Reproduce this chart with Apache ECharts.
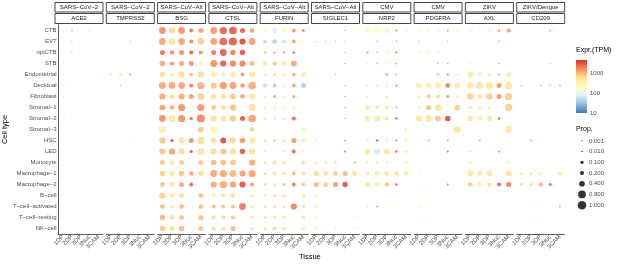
<!DOCTYPE html>
<html>
<head>
<meta charset="utf-8">
<script src="https://cdn.jsdelivr.net/npm/echarts@6/dist/echarts.min.js"></script>
<style>
  html, body { margin: 0; padding: 0; background: #fff; }
  #main { width: 617px; height: 264px; }
</style>
</head>
<body>
<div id="main"></div>
<script>
// axes
var cellTypes = ['CTB', 'EVT', 'npiCTB', 'STB', 'Endometrial', 'Decidual', 'Fibroblast',
  'Stromal−1', 'Stromal−2', 'Stromal−3', 'HSC', 'LED', 'Monocyte', 'Macrophage−1',
  'Macrophage−2', 'B−cell', 'T−cell−activated', 'T−cell−resting', 'NK−cell'];
var tissues = ['1DP', '2DP', '3DP', '3Nuc', '3CAM'];
var viruses = ['SARS−CoV−2', 'SARS−CoV−2', 'SARS−CoV−Alt', 'SARS−CoV−Alt', 'SARS−CoV−Alt',
  'SARS−CoV−Alt', 'CMV', 'CMV', 'ZIKV', 'ZIKV/Dengue'];
var genes = ['ACE2', 'TMPRSS2', 'BSG', 'CTSL', 'FURIN', 'SIGLEC1', 'NRP2', 'PDGFRA', 'AXL', 'CD209'];
var propBreaks = [0.001, 0.01, 0.1, 0.2, 0.4, 0.8, 1];
var exprTicks = [10, 100, 1000];

// proportion of cells (rows = cellTypes, cols = tissues), 0 = no dot; expression in TPM
var ACE2_prop = [
  [.006, .02, .006, .012, 0], [.006, .012, .006, .006, 0], [0, .012, 0, 0, 0], [.006, 0, 0, 0, 0],
  [.006, 0, 0, 0, 0], [.006, .012, .006, .006, 0], [.008, 0, 0, 0, 0], [0, 0, 0, 0, 0],
  [.006, .012, .006, 0, 0], [0, 0, 0, 0, 0], [.004, 0, 0, .004, 0], [0, 0, 0, 0, 0],
  [0, 0, .006, 0, 0], [.006, .006, 0, .004, 0], [.004, 0, 0, 0, 0], [.004, 0, 0, 0, 0],
  [0, 0, 0, 0, 0], [.004, 0, .004, 0, .004], [.004, 0, 0, 0, 0]];
var ACE2_expr = [
  [250, 35, 250, 55, 0], [250, 35, 250, 250, 0], [0, 35, 0, 0, 0], [250, 0, 0, 0, 0],
  [450, 0, 0, 0, 0], [250, 45, 250, 250, 0], [550, 0, 0, 0, 0], [0, 0, 0, 0, 0],
  [250, 45, 250, 0, 0], [0, 0, 0, 0, 0], [250, 0, 0, 250, 0], [0, 0, 0, 0, 0],
  [0, 0, 250, 0, 0], [250, 250, 0, 250, 0], [250, 0, 0, 0, 0], [250, 0, 0, 0, 0],
  [0, 0, 0, 0, 0], [250, 0, 250, 0, 250], [250, 0, 0, 0, 0]];

var TMPRSS2_prop = [
  [.006, 0, 0, .006, 0], [0, .006, .012, .006, 0], [0, 0, 0, 0, 0], [0, 0, 0, 0, 0],
  [.05, .15, .04, 0, .006], [0, .012, .006, 0, .006], [0, 0, 0, 0, 0], [0, 0, 0, 0, 0],
  [0, 0, 0, 0, 0], [0, 0, 0, 0, 0], [0, 0, .008, 0, 0], [0, 0, 0, 0, 0],
  [0, 0, 0, 0, 0], [0, 0, 0, 0, 0], [0, 0, 0, 0, 0], [0, 0, 0, 0, 0],
  [0, .006, .006, 0, 0], [0, 0, 0, 0, .004], [0, 0, 0, 0, .004]];
var TMPRSS2_expr = [
  [250, 0, 0, 250, 0], [0, 250, 35, 250, 0], [0, 0, 0, 0, 0], [0, 0, 0, 0, 0],
  [400, 400, 25, 0, 250], [0, 35, 250, 0, 250], [0, 0, 0, 0, 0], [0, 0, 0, 0, 0],
  [0, 0, 0, 0, 0], [0, 0, 0, 0, 0], [0, 0, 55, 0, 0], [0, 0, 0, 0, 0],
  [0, 0, 0, 0, 0], [0, 0, 0, 0, 0], [0, 0, 0, 0, 0], [0, 0, 0, 0, 0],
  [0, 250, 250, 0, 0], [0, 0, 0, 0, 250], [0, 0, 0, 0, 250]];

var BSG_prop = [
  [.6, .5, .6, .15, .3], [.6, .6, .6, .2, .6], [.3, .25, .3, .15, .2], [.4, .2, .3, .3, .2],
  [.4, .2, .5, .1, .5], [.6, .6, .6, .2, .7], [.5, .3, .5, .3, .6], [.4, .25, .7, 0, .7],
  [.6, .6, .7, .1, .9], [.6, 0, 0, 0, .4], [.5, .1, .5, .3, .7], [.5, .5, .5, .1, .7],
  [.3, .3, .3, 0, .3], [.35, .35, .4, .25, .4], [.3, .3, .3, .15, 0], [.5, .3, .3, 0, .3],
  [.25, .1, .25, 0, .25], [.35, .25, .3, 0, .3], [.35, .3, .35, 0, .3]];
var BSG_expr = [
  [2000, 700, 1800, 2800, 1500], [1500, 600, 1500, 2200, 800], [2800, 2000, 2000, 4000, 1800], [1300, 1900, 1500, 1900, 350],
  [650, 400, 650, 1500, 650], [1500, 1500, 1500, 2500, 1300], [1400, 650, 1300, 1700, 750], [1600, 1400, 1800, 0, 1800],
  [1900, 550, 1900, 3500, 2200], [450, 0, 0, 0, 900], [900, 4400, 650, 2000, 650], [900, 1600, 650, 4000, 550],
  [900, 550, 800, 0, 900], [800, 450, 900, 1400, 650], [900, 550, 1400, 3400, 0], [800, 450, 650, 0, 900],
  [1100, 650, 1100, 0, 1100], [1100, 650, 900, 0, 1000], [900, 650, 1100, 0, 900]];

var CTSL_prop = [
  [.6, .7, .8, .3, .25], [.6, .8, .9, .5, .6], [.3, .6, .35, .35, 0], [.6, .5, .5, .5, .3],
  [.4, .3, .4, .15, .45], [.5, .7, .6, .25, .8], [.4, .35, .4, .25, .5], [.3, .3, .5, 0, .6],
  [.5, .5, .5, .3, .8], [.7, 0, 0, 0, .25], [.4, .45, .45, .35, .45], [.45, .4, .5, .35, .5],
  [.35, .45, .4, 0, .5], [.6, .7, .6, .5, .7], [.5, .7, .5, .5, .2], [.2, .2, .3, 0, .1],
  [.15, .2, .2, .6, .1], [.15, .2, .2, 0, .1], [.15, .2, .3, 0, .1]];
var CTSL_expr = [
  [1800, 3400, 3600, 3400, 1600], [1600, 3400, 3800, 4500, 1600], [2700, 3600, 2500, 4000, 0], [2000, 3800, 2300, 2300, 1100],
  [450, 70, 450, 1800, 550], [900, 1800, 1600, 1800, 1400], [650, 650, 900, 1600, 550], [900, 650, 1000, 0, 650],
  [650, 550, 900, 4000, 1600], [350, 0, 0, 0, 800], [650, 4400, 650, 1800, 550], [650, 1100, 650, 4000, 600],
  [1100, 1000, 1000, 0, 1400], [1400, 1400, 1200, 1600, 1500], [1400, 1400, 1600, 4200, 1600], [450, 550, 550, 0, 550],
  [1100, 900, 900, 2700, 650], [650, 650, 900, 0, 650], [650, 650, 1100, 0, 650]];

var FURIN_prop = [
  [.2, .3, .25, .15, .05], [.15, .25, .15, .15, .05], [.05, .05, .05, .05, 0], [.3, .2, .25, .45, 0],
  [.1, .1, .1, .1, .3], [.2, .15, .2, .15, .3], [.1, .1, .05, .1, 0], [.05, .05, .05, .05, 0],
  [.1, .05, .1, .2, 0], [0, 0, 0, 0, .1], [.1, .05, .1, .3, .2], [.05, 0, .05, .15, .05],
  [.1, .15, .1, 0, .15], [.1, .15, .1, .15, .2], [.1, .1, .1, .15, .15], [.05, .1, .1, 0, .1],
  [.05, .1, .05, .5, .1], [.1, .1, .1, 0, .1], [.1, .15, .1, 0, .1]];
var FURIN_expr = [
  [250, 70, 250, 1800, 3400], [45, 35, 55, 1600, 250], [900, 1400, 1100, 3400, 0], [450, 900, 550, 1400, 0],
  [450, 550, 450, 1600, 450], [45, 35, 90, 1400, 35], [450, 1400, 450, 1400, 0], [450, 450, 450, 650, 0],
  [450, 550, 450, 3000, 0], [0, 0, 0, 0, 550], [650, 1100, 550, 1800, 550], [550, 0, 450, 3400, 450],
  [650, 650, 650, 0, 650], [650, 550, 650, 1100, 650], [650, 550, 900, 2700, 900], [550, 550, 550, 0, 650],
  [650, 650, 650, 2300, 650], [650, 650, 650, 0, 650], [650, 800, 650, 0, 550]];

var SIGLEC1_prop = [
  [.006, .006, .006, .012, 0], [.012, .012, .012, .012, .006], [0, 0, 0, .012, 0], [.006, .006, 0, .012, 0],
  [.006, 0, .012, 0, 0], [.008, .008, .008, .012, .008], [.006, .006, 0, .012, 0], [.006, 0, 0, .012, 0],
  [.006, 0, .006, .012, 0], [0, 0, 0, 0, 0], [.012, 0, 0, .02, 0], [.008, 0, 0, .02, 0],
  [.05, .05, .05, 0, .05], [.3, .3, .25, .3, .3], [.3, .3, .3, .35, 0], [.012, 0, 0, 0, 0],
  [.012, .008, .008, 0, 0], [.008, 0, 0, 0, .008], [.008, .008, .012, 0, .008]];
var SIGLEC1_expr = [
  [250, 250, 250, 1400, 0], [30, 35, 30, 900, 90], [0, 0, 0, 1100, 0], [250, 250, 0, 1400, 0],
  [90, 0, 35, 0, 0], [90, 90, 90, 1100, 90], [250, 250, 0, 1600, 0], [250, 0, 0, 1600, 0],
  [250, 0, 250, 1600, 0], [0, 0, 0, 0, 0], [650, 0, 0, 2000, 0], [450, 0, 0, 2700, 0],
  [650, 650, 650, 0, 900], [650, 550, 900, 1100, 550], [1100, 800, 1700, 4000, 0], [650, 0, 0, 0, 0],
  [1400, 450, 450, 0, 0], [650, 0, 0, 0, 650], [650, 650, 650, 0, 650]];

var NRP2_prop = [
  [.25, .35, .3, .05, .02], [.02, .02, .02, .02, .02], [.05, .03, .03, .03, 0], [.03, .03, .03, .03, 0],
  [.012, .012, .1, .03, 0], [.05, .05, .05, .05, 0], [.05, 0, .05, 0, 0], [.25, .2, .2, .03, 0],
  [.3, .45, .25, .05, 0], [0, 0, 0, 0, .05], [.05, .05, .05, .05, .05], [.45, .45, .45, .05, .1],
  [.05, .05, .03, 0, .05], [.2, .3, .25, .2, .25], [.3, .3, .25, .05, 0], [.012, .012, .012, 0, .012],
  [.03, .03, .012, .012, 0], [.012, .012, .012, 0, .012], [.012, .012, .012, 0, .012]];
var NRP2_expr = [
  [300, 250, 300, 1400, 450], [250, 35, 250, 1400, 250], [1400, 1100, 450, 3400, 0], [450, 35, 450, 1400, 0],
  [250, 250, 30, 1400, 0], [450, 450, 450, 1400, 0], [550, 0, 550, 0, 0], [550, 450, 450, 1400, 0],
  [550, 450, 450, 3400, 0], [0, 0, 0, 0, 450], [550, 3400, 550, 1400, 450], [450, 60, 450, 3400, 450],
  [550, 550, 550, 0, 550], [450, 450, 550, 650, 450], [550, 450, 900, 3400, 0], [450, 450, 450, 0, 450],
  [450, 1400, 450, 450, 0], [450, 450, 450, 0, 450], [450, 450, 450, 0, 450]];

var PDGFRA_prop = [
  [.02, .02, .02, .03, .03], [.012, .012, .012, .012, .012], [.02, .02, .02, 0, 0], [0, 0, .02, .02, 0],
  [.012, .012, .1, .05, .02], [.45, .45, .45, .25, .45], [.05, .15, .2, .1, .05], [.05, .3, .45, 0, .4],
  [.5, .6, .5, .4, 0], [0, 0, 0, 0, .6], [.012, .02, .012, .02, 0], [.012, .012, .012, .03, 0],
  [.012, 0, 0, 0, .012], [.02, .012, .012, 0, .012], [.012, .012, .012, .02, 0], [.012, .012, .012, 0, .012],
  [.02, .012, .012, 0, .012], [.012, .012, .012, 0, .012], [.012, .012, .012, 0, .012]];
var PDGFRA_expr = [
  [450, 450, 450, 1600, 450], [35, 250, 250, 1400, 250], [450, 450, 450, 0, 0], [0, 0, 30, 1400, 0],
  [250, 250, 45, 1800, 450], [450, 450, 450, 2500, 450], [550, 900, 650, 1800, 450], [650, 1000, 650, 0, 800],
  [550, 550, 900, 4000, 0], [0, 0, 0, 0, 550], [450, 1400, 450, 1800, 0], [450, 450, 450, 3000, 0],
  [450, 0, 0, 0, 450], [450, 450, 450, 0, 450], [450, 450, 450, 2700, 0], [450, 450, 450, 0, 450],
  [450, 450, 450, 0, 450], [450, 450, 450, 0, 450], [450, 450, 450, 0, 450]];

var AXL_prop = [
  [.02, .02, .02, .05, .2], [.02, .02, .02, .02, .02], [0, 0, 0, 0, 0], [.02, 0, 0, .02, 0],
  [.45, .3, .1, .03, .3], [.55, .6, .7, .3, .8], [.55, .3, .55, .3, .7], [.1, .1, .1, 0, .75],
  [.4, .3, .3, .05, 0], [0, 0, 0, 0, .6], [.012, .02, .012, .012, .012], [.05, .012, .012, .02, .012],
  [.05, .012, .012, 0, .05], [.45, .3, .45, 0, .45], [.25, .15, .2, .2, .35], [.012, .012, .012, 0, .012],
  [.012, .012, .012, 0, .012], [.012, .012, .012, 0, .012], [.012, .012, .012, 0, .012]];
var AXL_expr = [
  [450, 450, 450, 1800, 1600], [90, 250, 250, 1400, 250], [0, 0, 0, 0, 0], [450, 0, 0, 1400, 0],
  [500, 90, 450, 1400, 450], [550, 550, 550, 1800, 550], [800, 550, 800, 1800, 800], [550, 550, 550, 0, 800],
  [550, 450, 550, 3400, 0], [0, 0, 0, 0, 550], [450, 1800, 450, 450, 450], [550, 450, 450, 3000, 450],
  [550, 450, 450, 0, 550], [550, 500, 550, 0, 600], [900, 550, 650, 3000, 2000], [450, 450, 450, 0, 450],
  [450, 450, 450, 0, 450], [450, 450, 450, 0, 450], [450, 450, 450, 0, 450]];

var CD209_prop = [
  [.012, .012, .012, .02, .02], [.012, .012, .012, .012, .012], [0, 0, 0, 0, 0], [0, 0, 0, .012, 0],
  [0, 0, 0, 0, 0], [.02, .012, .02, .02, .02], [.012, .012, 0, 0, .012], [0, 0, 0, 0, 0],
  [0, 0, 0, 0, 0], [0, 0, 0, 0, .012], [.012, .02, .012, .012, .012], [.012, 0, 0, 0, .012],
  [.012, .012, .012, 0, .012], [.1, .1, .1, 0, .15], [.1, .15, .25, .1, 0], [.012, .012, .012, 0, .012],
  [.012, .012, .012, 0, .02], [.012, .012, .012, 0, .012], [.012, .012, .012, 0, .012]];
var CD209_expr = [
  [250, 250, 250, 1400, 450], [250, 250, 250, 250, 250], [0, 0, 0, 0, 0], [0, 0, 0, 35, 0],
  [0, 0, 0, 0, 0], [35, 250, 30, 35, 30], [250, 250, 0, 0, 250], [0, 0, 0, 0, 0],
  [0, 0, 0, 0, 0], [0, 0, 0, 0, 250], [450, 1400, 450, 450, 450], [450, 0, 0, 0, 450],
  [450, 450, 450, 0, 450], [550, 550, 500, 0, 550], [650, 550, 1100, 2700, 0], [450, 450, 450, 0, 450],
  [450, 450, 450, 0, 1400], [450, 450, 450, 0, 450], [450, 450, 450, 0, 450]];

var panelProp = [ACE2_prop, TMPRSS2_prop, BSG_prop, CTSL_prop, FURIN_prop,
  SIGLEC1_prop, NRP2_prop, PDGFRA_prop, AXL_prop, CD209_prop];
var panelExpr = [ACE2_expr, TMPRSS2_expr, BSG_expr, CTSL_expr, FURIN_expr,
  SIGLEC1_expr, NRP2_expr, PDGFRA_expr, AXL_expr, CD209_expr];

// layout
var PANEL_LEFT = 55, PANEL_W = 48, PANEL_STEP = 51.3, PANEL_TOP = 25, PANEL_H = 209;
var EXPR_MAX = 4500;
var palette = ['#4575b4', '#91bfdb', '#e0f3f8', '#ffffbf', '#fee090', '#fc8d59', '#d73027'];
var FONT = 'Liberation Sans, Arial, sans-serif';
var TXT = '#4d4d4d';

function dotSize(p) {
  return 0.8 + 7.7 * Math.sqrt(p);
}

var chart = echarts.init(document.getElementById('main'));

var grids = [], xAxes = [], yAxes = [], series = [], graphics = [];

for (var g = 0; g < genes.length; g++) {
  var left = PANEL_LEFT + g * PANEL_STEP;
  grids.push({ left: left, top: PANEL_TOP, width: PANEL_W, height: PANEL_H });
  xAxes.push({
    type: 'category', gridIndex: g, data: tissues,
    axisLine: { lineStyle: { color: '#333', width: 0.8 } },
    axisTick: { alignWithLabel: true, length: 2, lineStyle: { color: '#333', width: 0.8 } },
    axisLabel: { rotate: 45, fontSize: 6, color: TXT, margin: 2, interval: 0, fontFamily: FONT },
    splitLine: { show: false }
  });
  yAxes.push({
    type: 'category', gridIndex: g, data: cellTypes, inverse: true, show: g === 0,
    axisLine: { lineStyle: { color: '#333', width: 0.8 } },
    axisTick: { alignWithLabel: true, length: 2, lineStyle: { color: '#333', width: 0.8 } },
    axisLabel: { fontSize: 6, color: TXT, margin: 2, interval: 0, fontFamily: FONT },
    splitLine: { show: false },
    name: g === 0 ? 'Cell type' : '', nameLocation: 'middle', nameRotate: 90, nameGap: 44,
    nameTextStyle: { fontSize: 7.5, color: '#000', fontFamily: FONT }
  });

  var data = [];
  for (var r = 0; r < cellTypes.length; r++) {
    for (var t = 0; t < tissues.length; t++) {
      var p = panelProp[g][r][t];
      if (p > 0) data.push([t, r, p, Math.log10(panelExpr[g][r][t])]);
    }
  }
  series.push({
    type: 'scatter', xAxisIndex: g, yAxisIndex: g, data: data,
    symbolSize: function (v) { return dotSize(v[2]); },
    silent: true, animation: false
  });

  // facet strips
  var stripStyle = { fill: '#fff', stroke: '#333', lineWidth: 0.9 };
  graphics.push({ type: 'rect', shape: { x: left, y: 2.5, width: PANEL_W, height: 9.5 }, style: stripStyle });
  graphics.push({ type: 'rect', shape: { x: left, y: 13.5, width: PANEL_W, height: 10 }, style: stripStyle });
  graphics.push({ type: 'text', x: left + PANEL_W / 2, y: 7.5,
    style: { text: viruses[g], fontSize: 6, fill: '#1a1a1a', align: 'center', verticalAlign: 'middle', fontFamily: FONT } });
  graphics.push({ type: 'text', x: left + PANEL_W / 2, y: 18.8,
    style: { text: genes[g], fontSize: 6, fill: '#1a1a1a', align: 'center', verticalAlign: 'middle', fontFamily: FONT } });
}

// size legend grid
var LG = genes.length;
grids.push({ left: 577, top: 135.5, width: 10, height: 75 });
xAxes.push({ type: 'category', gridIndex: LG, data: [''], show: false });
yAxes.push({
  type: 'category', gridIndex: LG, data: propBreaks.map(function (b) { return b.toFixed(3); }),
  inverse: true, position: 'right',
  axisLine: { show: false }, axisTick: { show: false }, splitLine: { show: false },
  axisLabel: { fontSize: 6, color: TXT, margin: 2, interval: 0, fontFamily: FONT }
});
series.push({
  type: 'scatter', xAxisIndex: LG, yAxisIndex: LG,
  data: propBreaks.map(function (b, i) { return [0, i, b]; }),
  symbolSize: function (v) { return dotSize(v[2]); },
  itemStyle: { color: '#000' }, silent: true, animation: false
});

// colour bar axis grid
var CG = genes.length + 1;
var CB = { left: 576, top: 60, width: 11, height: 53 };
grids.push({ left: CB.left, top: CB.top, width: CB.width, height: CB.height });
xAxes.push({ type: 'value', gridIndex: CG, show: false });
yAxes.push({
  type: 'log', gridIndex: CG, min: exprTicks[0], max: EXPR_MAX, position: 'right', z: 10,
  axisLine: { show: false }, splitLine: { show: false },
  axisTick: { show: true, inside: true, length: 2, lineStyle: { color: '#fff', width: 0.8 } },
  axisLabel: { fontSize: 6, color: TXT, margin: 3, showMaxLabel: false, fontFamily: FONT,
    formatter: function (v) { return exprTicks.indexOf(Math.round(v)) >= 0 ? String(Math.round(v)) : ''; } }
});

var stops = palette.slice().reverse().map(function (c, i) {
  return { offset: i / (palette.length - 1), color: c };
});
graphics.push({ type: 'rect', z: 0, shape: { x: CB.left, y: CB.top, width: CB.width, height: CB.height },
  style: { fill: new echarts.graphic.LinearGradient(0, 0, 0, 1, stops) } });
graphics.push({ type: 'text', x: 576, y: 50,
  style: { text: 'Expr.(TPM)', fontSize: 7, fill: '#000', verticalAlign: 'middle', fontFamily: FONT } });
graphics.push({ type: 'text', x: 576, y: 129,
  style: { text: 'Prop.', fontSize: 7, fill: '#000', verticalAlign: 'middle', fontFamily: FONT } });
graphics.push({ type: 'text', x: PANEL_LEFT + (genes.length - 1) * PANEL_STEP / 2 + PANEL_W / 2, y: 257,
  style: { text: 'Tissue', fontSize: 7.5, fill: '#000', align: 'center', verticalAlign: 'middle', fontFamily: FONT } });

var seriesIdx = [];
for (var s = 0; s < genes.length; s++) seriesIdx.push(s);

chart.setOption({
  backgroundColor: '#fff',
  animation: false,
  grid: grids,
  xAxis: xAxes,
  yAxis: yAxes,
  visualMap: {
    type: 'continuous', show: false, dimension: 3, seriesIndex: seriesIdx,
    min: Math.log10(exprTicks[0]), max: Math.log10(EXPR_MAX),
    inRange: { color: palette }
  },
  graphic: graphics,
  series: series
});
</script>
</body>
</html>
